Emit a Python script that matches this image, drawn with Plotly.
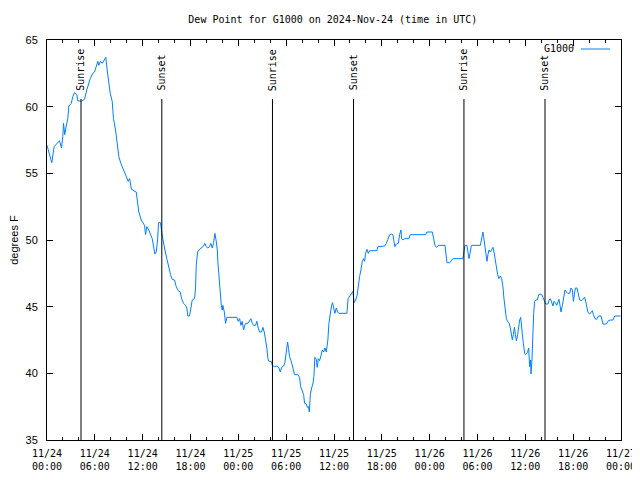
import pandas as pd
import plotly.graph_objects as go

start = "2024-11-24 00:00"
# elapsed hours since start, dew point (deg F)
hours = [0.0, 0.60, 0.90, 1.15, 1.57, 1.82, 1.98, 2.07, 2.23, 2.41, 2.61, 2.74, 3.04, 3.24, 3.45, 3.74, 3.86,
         4.29, 4.71, 4.99, 5.25, 5.42, 5.75, 5.96, 6.17, 6.37, 6.50, 6.71, 6.93, 7.13, 7.38, 7.55, 7.72, 7.93,
         8.18, 8.34, 8.60, 8.81, 9.01, 9.26, 9.51, 9.76, 10.01, 10.19, 10.35, 10.60, 11.19, 11.52, 11.82, 12.23,
         12.36, 12.52, 12.77, 13.20, 13.40, 13.53, 13.70, 13.87, 13.99, 14.24, 14.41, 14.53, 14.74, 15.03, 15.28,
         15.50, 15.71, 16.00, 16.21, 16.46, 16.71, 16.88, 17.13, 17.38, 17.54, 17.67, 17.88, 18.04, 18.22, 18.51,
         18.63, 18.72, 18.89, 19.14, 19.39, 19.64, 19.80, 19.98, 20.18, 20.39, 20.55, 20.73, 20.89, 21.06, 21.23,
         21.36, 21.43, 21.56, 21.73, 21.86, 21.98, 22.06, 22.24, 22.40, 22.56, 23.82, 23.99, 24.16, 24.32, 24.49,
         24.66, 24.78, 24.91, 25.20, 25.41, 25.57, 25.75, 25.91, 26.16, 26.33, 26.50, 26.66, 26.92, 27.08, 27.25,
         27.42, 27.58, 27.71, 27.83, 28.13, 28.26, 28.55, 28.84, 29.09, 29.26, 29.43, 29.68, 29.84, 30.02, 30.18,
         30.30, 30.43, 30.64, 30.84, 31.06, 31.47, 31.68, 31.81, 31.97, 32.19, 32.31, 32.52, 32.65, 32.81, 32.90,
         33.03, 33.19, 33.35, 33.48, 33.60, 33.78, 33.90, 34.03, 34.19, 34.36, 34.53, 34.70, 34.86, 35.03, 35.23,
         35.36, 35.54, 35.70, 35.82, 35.95, 36.11, 36.29, 36.45, 36.61, 37.62, 37.77, 37.96, 38.17, 38.37, 38.52,
         38.71, 38.90, 39.05, 39.21, 39.38, 39.55, 39.71, 39.84, 39.96, 40.13, 40.30, 40.47, 41.38, 41.51, 42.35,
         42.56, 42.76, 42.98, 43.19, 43.39, 43.52, 43.64, 43.82, 44.07, 44.23, 44.40, 44.48, 44.65, 44.86, 45.40,
         45.57, 47.49, 47.66, 48.33, 48.50, 48.66, 48.84, 49.00, 49.16, 49.92, 50.09, 50.17, 50.51, 50.72, 50.92,
         52.17, 52.30, 52.43, 52.68, 52.85, 52.93, 53.10, 53.23, 54.36, 54.48, 54.61, 54.68, 54.77, 54.86, 55.02,
         55.19, 55.31, 55.44, 55.61, 55.78, 55.94, 56.07, 56.19, 56.37, 56.53, 56.69, 56.87, 57.03, 57.19, 57.32,
         57.44, 57.62, 57.75, 57.95, 58.12, 58.25, 58.37, 58.50, 58.63, 58.75, 58.88, 59.04, 59.17, 59.29, 59.42,
         59.50, 59.63, 59.75, 59.92, 60.04, 60.26, 60.42, 60.54, 60.67, 60.71, 60.83, 60.92, 61.05, 61.17, 61.30,
         61.51, 61.67, 61.84, 62.05, 62.21, 62.39, 62.55, 62.84, 62.97, 63.14, 63.31, 63.47, 63.59, 63.77, 63.93,
         64.10, 64.22, 64.35, 64.47, 64.65, 64.81, 64.97, 65.15, 65.31, 65.56, 65.73, 65.90, 66.03, 66.15, 66.28,
         66.48, 66.66, 66.82, 67.07, 67.28, 67.45, 67.57, 67.70, 67.86, 68.07, 68.24, 68.41, 68.54, 68.74, 68.95,
         69.16, 69.49, 69.66, 69.74, 70.17, 70.42, 70.67, 71.00, 71.21, 71.96]
dewpoint = [57.1, 55.8, 57.0, 57.2, 57.45, 56.9, 57.75, 58.75, 57.9, 58.55, 59.1, 60.05, 60.25, 60.75, 61.05, 60.9, 60.45,
            60.4, 60.55, 61.25, 61.75, 62.1, 62.5, 62.6, 63.0, 63.4, 63.1, 63.4, 63.25, 63.45, 63.7, 62.75, 61.75, 61.0,
            60.4, 59.1, 58.25, 57.25, 56.25, 55.75, 55.4, 55.0, 54.6, 54.4, 54.6, 53.8, 53.6, 52.1, 51.5, 51.1,
            50.4, 51.0, 50.75, 50.1, 49.4, 48.95, 49.1, 50.0, 51.3, 51.3, 50.5, 50.0, 49.4, 48.6, 47.9,
            47.4, 47.05, 47.0, 46.5, 46.2, 46.1, 45.6, 45.25, 45.1, 44.9, 44.3, 44.3, 44.75, 45.5, 45.6,
            46.4, 48.1, 49.1, 49.3, 49.4, 49.55, 49.75, 49.5, 49.4, 49.5, 49.75, 49.4, 49.75, 50.5, 49.9,
            49.25, 48.4, 47.6, 46.1, 45.1, 44.75, 45.1, 44.6, 43.75, 44.2, 44.2, 43.9, 44.1, 43.6, 43.9,
            43.25, 43.55, 43.75, 43.75, 43.9, 44.1, 43.75, 43.6, 43.6, 43.9, 43.4, 43.1, 43.1, 43.45, 43.1,
            42.5, 41.9, 41.1, 40.9, 40.9, 40.6, 40.5, 40.55, 40.4, 40.1, 40.45, 40.55, 40.8, 41.5, 42.35,
            41.85, 41.25, 40.9, 40.4, 39.9, 39.9, 39.7, 39.0, 38.75, 38.4, 37.75, 37.7, 37.45, 37.5, 37.1,
            38.4, 38.9, 39.2, 39.75, 41.2, 41.05, 40.45, 41.1, 40.95, 41.3, 41.75, 41.6, 41.9, 41.6, 42.5,
            43.75, 44.6, 45.1, 45.3, 45.0, 44.5, 44.9, 44.6, 44.5, 44.5, 45.6, 45.8, 45.95, 46.15, 45.3,
            45.5, 45.85, 46.6, 47.25, 47.75, 48.4, 48.6, 48.4, 49.0, 49.3, 49.0, 49.2, 49.2, 49.5, 49.55,
            49.75, 50.05, 50.4, 50.45, 50.4, 49.9, 49.5, 49.7, 49.75, 50.4, 50.75, 50.1, 50.0, 50.1, 50.1,
            50.4, 50.4, 50.6, 50.6, 50.1, 49.6, 49.45, 49.55, 49.6, 49.6, 48.9, 48.3, 48.3, 48.5, 48.6,
            48.6, 49.0, 49.6, 49.6, 49.1, 48.6, 49.1, 49.6, 49.6, 49.95, 50.3, 50.6, 50.25, 49.75, 49.0,
            48.4, 48.9, 49.25, 49.1, 49.3, 49.45, 49.1, 48.6, 47.9, 47.4, 47.1, 47.3, 47.1, 46.5, 45.6,
            44.9, 44.1, 43.9, 43.8, 43.4, 42.75, 42.5, 42.9, 43.45, 42.9, 42.45, 42.9, 43.5, 44.0, 44.2,
            43.5, 42.9, 42.25, 41.5, 41.4, 41.55, 41.9, 40.5, 41.0, 39.95, 41.0, 43.1, 44.5, 45.4, 45.5,
            45.5, 45.9, 45.95, 45.9, 45.7, 45.4, 45.2, 45.2, 45.5, 45.6, 45.25, 45.05, 45.4, 45.3, 45.1,
            45.4, 45.55, 45.1, 44.6, 45.1, 45.6, 46.25, 46.1, 46.0, 46.0, 46.4, 46.25, 45.4, 45.95, 46.4,
            46.4, 45.9, 45.5, 45.45, 45.6, 45.7, 45.4, 44.9, 44.55, 44.45, 44.55, 44.7, 44.4, 44.1, 44.05,
            44.3, 44.3, 44.0, 43.7, 43.7, 43.95, 44.0, 44.0, 44.3, 44.3]

event_labels = ["Sunrise", "Sunset", "Sunrise", "Sunset", "Sunrise", "Sunset"]
event_times = ["2024-11-24 04:16", "2024-11-24 14:24", "2024-11-25 04:17", "2024-11-25 14:27",
               "2024-11-26 04:18", "2024-11-26 14:28"]

series_name = "G1000"
title_text = "Dew Point for G1000 on 2024-Nov-24 (time in UTC)"
y_title = "degrees F"

times = pd.Timestamp(start) + pd.to_timedelta(hours, unit="h")

mono = "DejaVu Sans Mono"
sans = "Liberation Sans"
blue = "rgb(0,128,255)"

fig = go.Figure()
fig.add_trace(go.Scatter(x=times, y=dewpoint, mode="lines", name=series_name,
                         line=dict(color=blue, width=1), showlegend=False))

for lab, t in zip(event_labels, event_times):
    fig.add_shape(type="line", xref="x", yref="paper", x0=t, x1=t, y0=0, y1=0.8525,
                  line=dict(color="black", width=1))
    fig.add_annotation(x=t, xref="x", y=0.868, yref="paper", text=lab, textangle=-90,
                       showarrow=False, xanchor="center", yanchor="bottom",
                       font=dict(family=mono, size=10, color="black"))

# legend (gnuplot style: text then sample)
fig.add_annotation(x=0.922, y=0.9775, xref="paper", yref="paper", text=series_name, showarrow=False,
                   xanchor="right", yanchor="middle", font=dict(family=mono, size=10, color="black"))
fig.add_shape(type="line", xref="paper", yref="paper", x0=0.930, x1=0.981, y0=0.9775, y1=0.9775,
              line=dict(color=blue, width=1))

# page body adds an ~8px offset, so the figure is sized to fit the 640x480 window
fig.update_layout(
    width=632, height=472,
    margin=dict(l=39, r=19, t=32, b=40),
    paper_bgcolor="white", plot_bgcolor="white",
    title=dict(text=title_text, x=0.514, xanchor="center", y=0.975, yanchor="middle",
               font=dict(family=mono, size=10, color="black"), automargin=False),
    showlegend=False,
)
fig.update_xaxes(
    type="date", range=["2024-11-24 00:00", "2024-11-27 00:00"], automargin=False,
    tick0="2024-11-24 00:00", dtick=6 * 3600 * 1000, tickformat="%m/%d<br>%H:%M",
    ticks="inside", ticklen=6, tickcolor="black", showline=True, linecolor="black", linewidth=1,
    mirror="ticks", showgrid=False, zeroline=False, ticklabelstandoff=4,
    tickfont=dict(family=mono, size=10, color="black"),
    minor=dict(ticks="inside", dtick=2 * 3600 * 1000, ticklen=3, tickcolor="black", showgrid=False),
)
fig.update_yaxes(
    range=[35, 65], dtick=5, tick0=35, automargin=False,
    ticks="inside", ticklen=6, tickcolor="black", showline=True, linecolor="black", linewidth=1,
    mirror="ticks", showgrid=False, zeroline=False, ticklabelstandoff=6,
    tickfont=dict(family=sans, size=11, color="black"),
    title=dict(text=y_title, font=dict(family=sans, size=11, color="black"), standoff=19),
)

fig.write_html("out.html")
